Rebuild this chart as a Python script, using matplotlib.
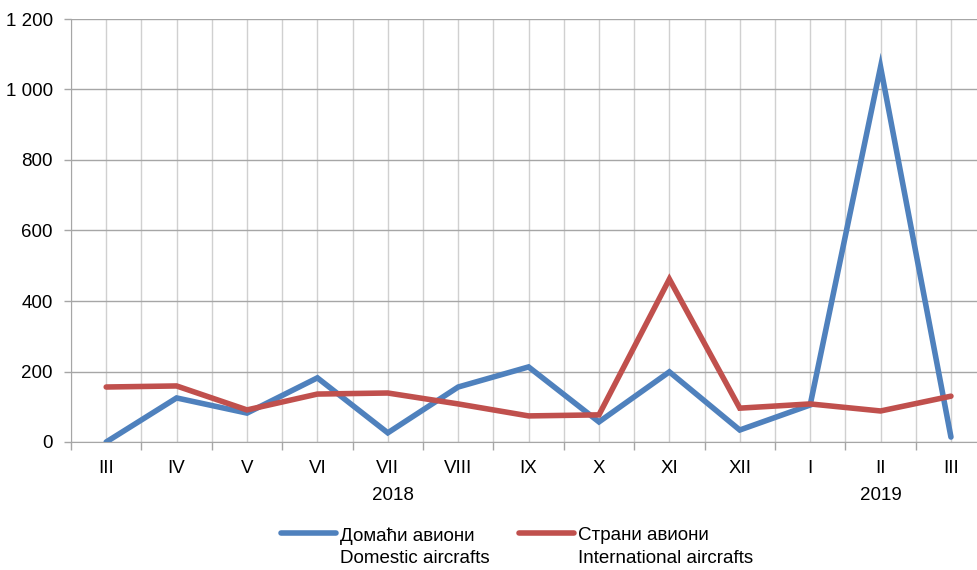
import matplotlib
matplotlib.use('Agg')
import matplotlib.pyplot as plt
from matplotlib.legend_handler import HandlerLine2D
import numpy as np

# month labels and values
months = ['III', 'IV', 'V', 'VI', 'VII', 'VIII', 'IX', 'X', 'XI', 'XII', 'I', 'II', 'III']
domestic = [0, 125, 82, 182, 26, 156, 213, 57, 199, 34, 105, 1064, 14]
international = [156, 159, 91, 136, 139, 108, 74, 77, 462, 96, 108, 88, 130]
years = ['2018', '2019']
year_pos = [4.07, 11]

plt.rcParams['font.family'] = ['Liberation Sans', 'DejaVu Sans']
fs = 13.5

#legend handle sits level with the first text line
class UpHandler(HandlerLine2D):
    def create_artists(self, legend, orig_handle, xdescent, ydescent, width, height, fontsize, trans):
        return super().create_artists(legend, orig_handle, xdescent, ydescent - 20,
                                      width, height, fontsize, trans)

fig = plt.figure(figsize=(9.77, 5.70), dpi=100)
ax = fig.add_axes([71/977, 128/570, 1 - 71/977, 423/570])

x = np.arange(len(months))
l1, = ax.plot(x, domestic, color='#4f81bd', lw=4, solid_capstyle='round', solid_joinstyle='miter',
              label='Домаћи авиони\nDomestic aircrafts', zorder=3)
l2, = ax.plot(x, international, color='#c0504d', lw=4, solid_capstyle='round', solid_joinstyle='miter',
              label='Страни авиони\nInternational aircrafts', zorder=3)

#ticks first, limits after (set_xticks widens the view)
ax.set_yticks(range(0, 1201, 200))
ax.set_yticklabels(['0', '200', '400', '600', '800', '1 000', '1 200'])
ax.set_xticks(x)
ax.set_xticklabels(months)
ax.set_xticks(np.arange(-0.5, 13, 1), minor=True)
ax.set_xlim(-0.5, 12.37)
ax.set_ylim(0, 1200)

ax.tick_params(axis='x', which='major', length=0, pad=13, labelsize=fs)
ax.tick_params(axis='x', which='minor', length=6, direction='out', color='#a6a6a6', width=1)
ax.tick_params(axis='y', which='major', length=5, direction='out', color='#a6a6a6', width=1,
               labelsize=fs, pad=8)

#grid lines
ax.grid(axis='y', color='#a6a6a6', lw=1)
ax.grid(axis='x', which='both', color='#d0d0d0', lw=1)
ax.set_axisbelow(True)

for s in ['top', 'right']:
    ax.spines[s].set_visible(False)
ax.spines['left'].set_color('#a6a6a6')
ax.spines['bottom'].set_color('#a6a6a6')

#year labels
for yr, p in zip(years, year_pos):
    ax.annotate(yr, xy=(p, 0), xycoords=('data', 'axes fraction'), xytext=(0, -53),
                textcoords='offset pixels', ha='center', va='center', fontsize=fs)

leg = fig.legend(loc='center', bbox_to_anchor=(517/977, 1 - 547/570), ncol=2, frameon=False,
                 fontsize=fs, handlelength=2.9, handletextpad=0.22, columnspacing=1.6,
                 handler_map={l1: UpHandler(), l2: UpHandler()})
for t in leg.get_texts():
    t.set_linespacing(1.4)

fig.savefig('out.png', dpi=100)
